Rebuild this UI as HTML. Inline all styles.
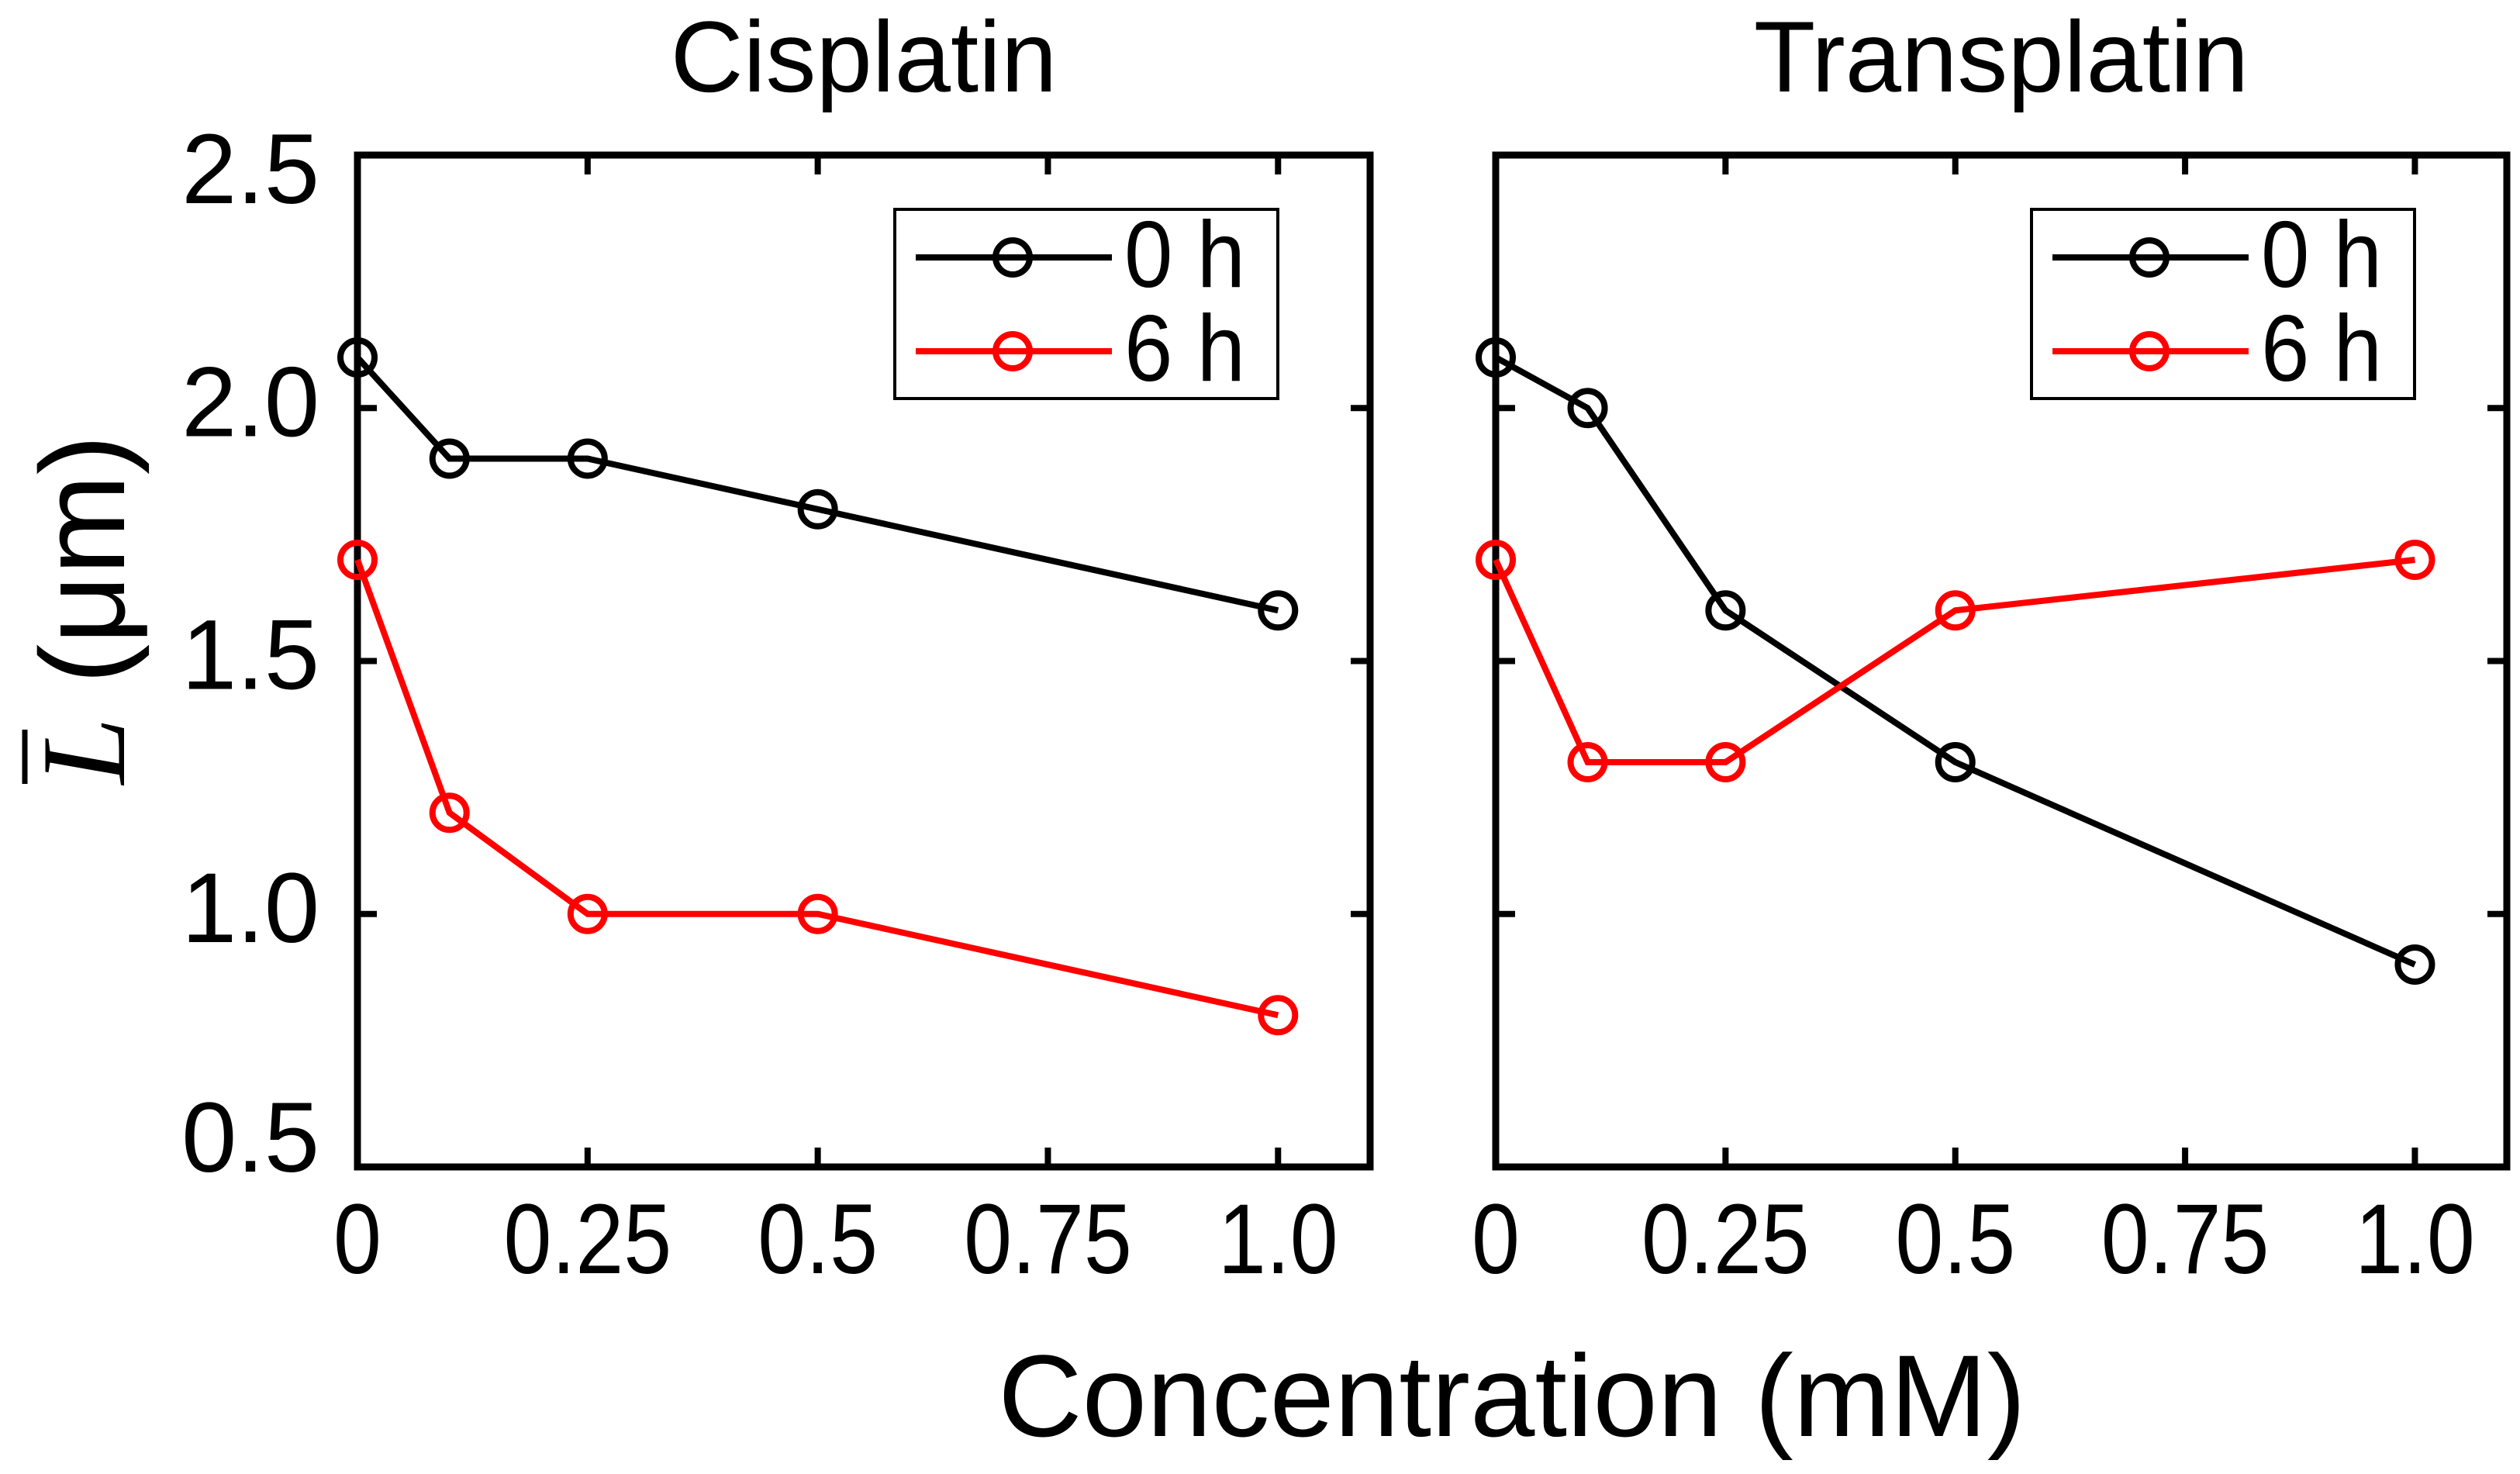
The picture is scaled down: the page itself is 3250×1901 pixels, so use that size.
<!DOCTYPE html>
<html><head><meta charset="utf-8"><style>
html,body{margin:0;padding:0;background:#fff;}
svg{display:block;font-family:"Liberation Sans",Arial,sans-serif;}
</style></head><body>
<svg id="chart" width="3250" height="1901" viewBox="0 0 3250 1901" xmlns="http://www.w3.org/2000/svg">
<text x="1950" y="1852" font-size="150" text-anchor="middle">Concentration (mM)</text>
<g transform="translate(160,786) rotate(-90)">
<text x="0" y="0" font-size="155" text-anchor="middle"><tspan font-family="Liberation Serif,serif" font-style="italic">L</tspan> (μm)</text>
<line x1="-225" y1="-128" x2="-155" y2="-128" stroke="#000" stroke-width="7"/>
</g>
</svg>
<script>
const xValues = [0, 0.1, 0.25, 0.5, 1.0];
const cis0h = [2.1, 1.9, 1.9, 1.8, 1.6];
const cis6h = [1.7, 1.2, 1.0, 1.0, 0.8];
const trans0h = [2.1, 2.0, 1.6, 1.3, 0.9];
const trans6h = [1.7, 1.3, 1.3, 1.6, 1.7];
const xTicks = [0, 0.25, 0.5, 0.75, 1.0];
const xTickLabels = ["0", "0.25", "0.5", "0.75", "1.0"];
const yTicks = [0.5, 1.0, 1.5, 2.0, 2.5];
const yTickLabels = ["0.5", "1.0", "1.5", "2.0", "2.5"];
const seriesNames = ["0 h", "6 h"];

const NS = "http://www.w3.org/2000/svg";
const svg = document.getElementById('chart');
function mk(tag, attrs, parent) {
  const e = document.createElementNS(NS, tag);
  for (const k in attrs) e.setAttribute(k, attrs[k]);
  (parent || svg).appendChild(e);
  return e;
}
function stext(parent, x, y, size, anchor, sx, str) {
  const g = mk('g', {transform: 'translate(' + x + ',' + y + ') scale(' + sx + ',1)'}, parent);
  const t = mk('text', {x: 0, y: 0, 'font-size': size, 'text-anchor': anchor}, g);
  t.textContent = str;
  return t;
}

function panel(name, L, R, title, s0, s1, showY, lx) {
  const T = 200, B = 1505;
  const xs = v => L + (v - 0) / 1.1 * (R - L);
  const ys = v => B - (v - 0.5) / 2.0 * (B - T);
  const g = mk('g', {});
  
  
  const t = mk('text', {x: (L + R) / 2, y: 118, 'font-size': 130, 'text-anchor': 'middle'}, g);
  t.textContent = title;
  
  
  const tl = 25;
  xTicks.forEach((v, i) => {
    const x = xs(v);
    const a = mk('line', {x1: x, x2: x, y1: B, y2: B - tl, stroke: '#000', 'stroke-width': 8}, g);
    
    
    mk('line', {x1: x, x2: x, y1: T, y2: T + tl, stroke: '#000', 'stroke-width': 8}, g);
    const lb = stext(g, x, 1642, 128, 'middle', 0.87, xTickLabels[i]);
    
    
  });
  yTicks.forEach((v, i) => {
    const y = ys(v);
    const a = mk('line', {x1: L, x2: L + tl, y1: y, y2: y, stroke: '#000', 'stroke-width': 8}, g);
    
    
    mk('line', {x1: R, x2: R - tl, y1: y, y2: y, stroke: '#000', 'stroke-width': 8}, g);
    if (showY) {
      const by = Math.min(Math.max(y + 36, 262), 1511);
      const lb = stext(g, 412, by, 128, 'end', 1.0, yTickLabels[i]);
      
      
    }
  });
  const frame = mk('rect', {x: L, y: T, width: R - L, height: B - T, fill: 'none', stroke: '#000', 'stroke-width': 9}, g);
  
  
  [[s0, '#000', '0h'], [s1, '#ff0000', '6h']].forEach(([data, col, nm]) => {
    const pts = data.map((v, i) => xs(xValues[i]) + ',' + ys(v)).join(' ');
    const pl = mk('polyline', {points: pts, fill: 'none', stroke: col, 'stroke-width': 8}, g);
    
    
    data.forEach((v, i) => {
      const c = mk('circle', {cx: xs(xValues[i]), cy: ys(v), r: 22, fill: 'none', stroke: col, 'stroke-width': 8}, g);
      
      
    });
  });
  const lg = mk('g', {}, g);
  
  
  mk('rect', {x: lx, y: 270, width: 494, height: 244, fill: '#fff', stroke: '#000', 'stroke-width': 4}, lg);
  ['#000', '#ff0000'].forEach((col, i) => {
    const y = 332 + i * 121;
    const e = mk('g', {}, lg);
    
    
    mk('line', {x1: lx + 27, x2: lx + 280, y1: y, y2: y, stroke: col, 'stroke-width': 8}, e);
    mk('circle', {cx: lx + 152, cy: y, r: 22, fill: 'none', stroke: col, 'stroke-width': 8}, e);
    stext(e, lx + 296, y + 38, 122, 'start', 0.92, seriesNames[i]);
  });
}
panel('cisplatin', 461, 1767, 'Cisplatin', cis0h, cis6h, true, 1154);
panel('transplatin', 1929, 3233, 'Transplatin', trans0h, trans6h, false, 2620);
</script>
</body></html>
